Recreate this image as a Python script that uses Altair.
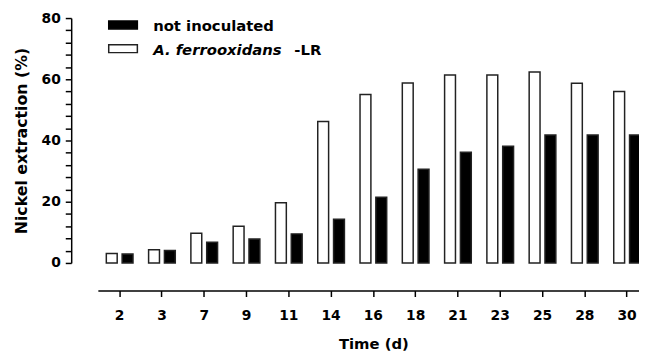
import altair as alt
import pandas as pd

times = ["2", "3", "7", "9", "11", "14", "16", "18", "21", "23", "25", "28", "30"]
inoculated = [3.1, 4.3, 9.7, 12.0, 19.7, 46.2, 55.0, 58.8, 61.4, 61.4, 62.4, 58.7, 56.0]
not_inoculated = [2.9, 4.1, 6.8, 7.8, 9.5, 14.3, 21.5, 30.6, 36.2, 38.1, 41.8, 41.8, 41.8]
series = ["A. ferrooxidans -LR", "not inoculated"]
y_ticks = list(range(0, 81, 4))

rows = []
for t, a, b in zip(times, inoculated, not_inoculated):
    rows.append({"time": t, "series": series[0], "value": a})
    rows.append({"time": t, "series": series[1], "value": b})
df = pd.DataFrame(rows)

FONT = "DejaVu Sans"

bars = alt.Chart(df).mark_bar(stroke="#222", strokeWidth=1.5).encode(
    x=alt.X(
        "time:N", sort=times, title="Time (d)",
        scale=alt.Scale(range=[0, 558], paddingInner=0.369, paddingOuter=0.2),
        axis=alt.Axis(labelAngle=0, offset=28, tickSize=6, labelPadding=12,
                      titlePadding=15, domainWidth=1.5, tickWidth=1.5,
                      domain=True, ticks=True,
                      domainColor="black", tickColor="black", grid=False,
                      titleFontSize=15),
    ),
    xOffset=alt.XOffset("series:N", sort=series, scale=alt.Scale(paddingInner=0.3125)),
    y=alt.Y(
        "value:Q", title="Nickel extraction (%)",
        scale=alt.Scale(domain=[0, 80], nice=False),
        axis=alt.Axis(values=y_ticks, orient="left",
                      labelExpr="datum.value % 20 == 0 ? datum.label : ''",
                      labelOverlap=False, offset=27, tickSize=6, labelPadding=5,
                      titlePadding=12, domainWidth=1.5, tickWidth=1.5,
                      domain=True, ticks=True,
                      domainColor="black", tickColor="black", grid=False,
                      titleFontSize=16),
    ),
    fill=alt.Fill("series:N", scale=alt.Scale(domain=series, range=["white", "black"]), legend=None),
)

one = pd.DataFrame({"k": [0]})

leg_black = alt.Chart(one).mark_rect(fill="black", stroke="black", strokeWidth=1.5).encode(
    x=alt.value(11), x2=alt.value(40), y=alt.value(3), y2=alt.value(11)
)
leg_white = alt.Chart(one).mark_rect(fill="white", stroke="#222", strokeWidth=1.5).encode(
    x=alt.value(11), x2=alt.value(40), y=alt.value(27), y2=alt.value(35)
)
txt_style = dict(align="left", baseline="middle", font=FONT, fontSize=15, fontWeight="bold", color="black")
leg_t1 = alt.Chart(one).mark_text(**txt_style).encode(
    x=alt.value(56), y=alt.value(8), text=alt.value(series[1])
)
leg_t2 = alt.Chart(one).mark_text(fontStyle="italic", **txt_style).encode(
    x=alt.value(56), y=alt.value(32), text=alt.value("A. ferrooxidans")
)
leg_t3 = alt.Chart(one).mark_text(**txt_style).encode(
    x=alt.value(199), y=alt.value(32), text=alt.value("-LR")
)

chart = alt.layer(bars, leg_black, leg_white, leg_t1, leg_t2, leg_t3).properties(
    width=548, height=248,
    autosize=alt.AutoSizeParams(type="none"),
    padding={"left": 91, "top": 8, "right": 0, "bottom": 89},
).configure_view(stroke=None).configure_axis(
    labelFont=FONT, titleFont=FONT, labelFontSize=14,
    labelFontWeight="bold", titleFontWeight="bold",
    labelColor="black", titleColor="black",
)

chart.save("out.html", embed_options={"renderer": "svg", "actions": False})
